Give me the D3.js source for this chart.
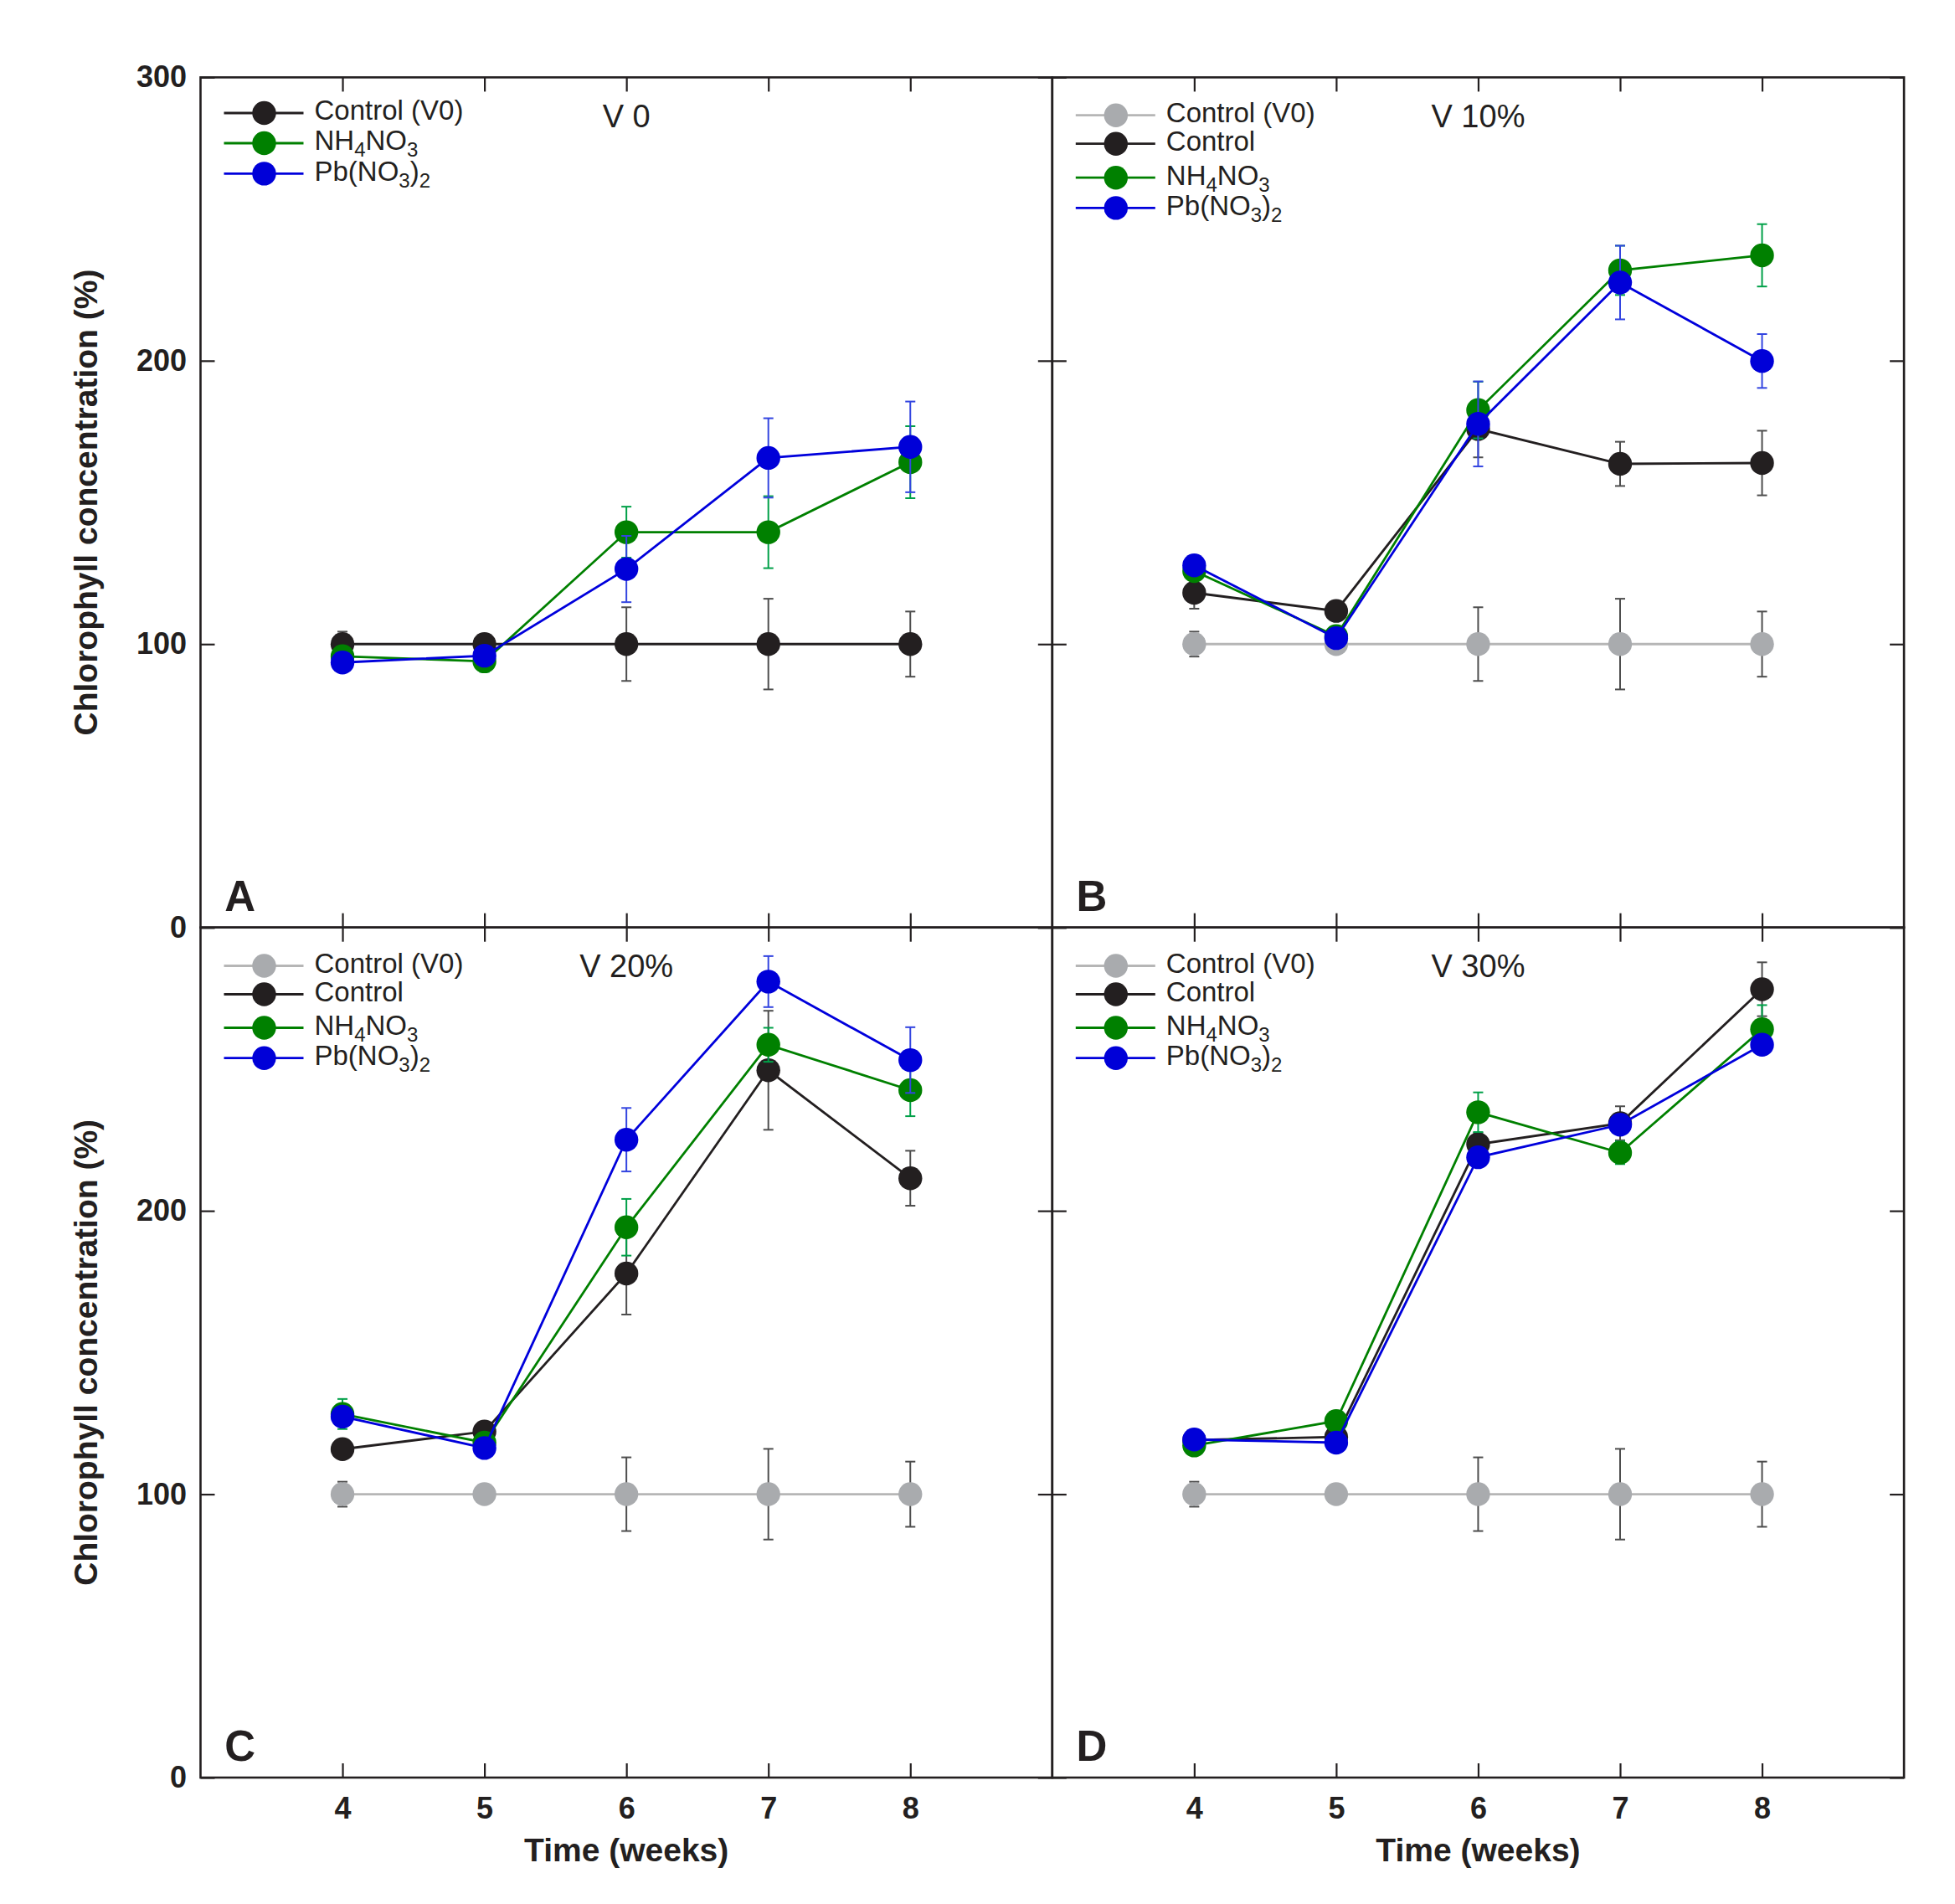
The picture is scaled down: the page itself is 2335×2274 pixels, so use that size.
<!DOCTYPE html>
<html><head><meta charset="utf-8">
<script src="https://cdn.jsdelivr.net/npm/d3@7"></script>
<style>
body{margin:0;background:#fff}
svg{display:block}
text{font-family:"Liberation Sans",Arial,Helvetica,sans-serif}
</style>
</head><body>
<svg id="chart" width="2335" height="2274"></svg>
<script>
// ---------------- DATA ----------------
const weeks = [4, 5, 6, 7, 8];
const yTickValues = [0, 100, 200, 300];
const panelLetters = ["A", "B", "C", "D"];
const panelTitles = ["V 0", "V 10%", "V 20%", "V 30%"];
const seriesNames = ["Control (V0)", "Control", "NH4NO3", "Pb(NO3)2"];
const yAxisTitle = "Chlorophyll concentration (%)";
const xAxisTitle = "Time (weeks)";

const v0Values = [100, 100, 100, 100, 100];
const v0Errors = [4.4, 2, 13, 16, 11.5];

const aNh4Values = [95.7, 93.9, 139.5, 139.5, 164.2];
const aNh4Errors = [3, 3.7, 9, 12.7, 12.7];
const aPbValues = [93.5, 95.9, 126.5, 165.7, 169.6];
const aPbErrors = [3.5, 2, 11.7, 14, 16];

const bControlValues = [118.1, 111.7, 175.9, 163.6, 163.9];
const bControlErrors = [5.6, 3, 10, 7.8, 11.4];
const bNh4Values = [125.8, 102.8, 182.6, 231.9, 237.2];
const bNh4Errors = [3, 2, 10, 8.7, 11];
const bPbValues = [127.8, 102.1, 177.7, 227.6, 199.9];
const bPbErrors = [3, 2, 15, 13, 9.5];

const cControlValues = [115.9, 122.1, 177.9, 249.6, 211.5];
const cControlErrors = [3, 3, 14.5, 21, 9.7];
const cNh4Values = [128.3, 118.2, 194.2, 258.6, 242.6];
const cNh4Errors = [5.3, 2, 10, 6, 9.2];
const cPbValues = [127.4, 116.3, 225.1, 280.9, 253.2];
const cPbErrors = [3, 2, 11.2, 9, 11.6];

const dControlValues = [119.1, 120.2, 223.5, 230.9, 278.2];
const dControlErrors = [2, 2, 4, 6, 9.5];
const dNh4Values = [117.2, 125.8, 234.8, 220.5, 264.1];
const dNh4Errors = [2, 2, 7, 4, 8.5];
const dPbValues = [119.3, 118.2, 218.9, 230.4, 258.6];
const dPbErrors = [2, 2, 3, 3, 3.5];

// ---------------- STYLES ----------------
const STY = {
  v0gray: {line: "#b6b6b6", marker: "#a9abae", err: "#4d4d4d"},
  black:  {line: "#231f20", marker: "#231f20", err: "#4d4d4d"},
  green:  {line: "#008000", marker: "#008000", err: "#00a048"},
  blue:   {line: "#0000dc", marker: "#0000d8", err: "#3345e0"}
};

const panels = [
  {series: [
    {name: seriesNames[0], v: v0Values, e: v0Errors, s: STY.black},
    {name: seriesNames[2], v: aNh4Values, e: aNh4Errors, s: STY.green},
    {name: seriesNames[3], v: aPbValues, e: aPbErrors, s: STY.blue}
  ], rows: [42.6, 78.6, 115]},
  {series: [
    {name: seriesNames[0], v: v0Values, e: v0Errors, s: STY.v0gray},
    {name: seriesNames[1], v: bControlValues, e: bControlErrors, s: STY.black},
    {name: seriesNames[2], v: bNh4Values, e: bNh4Errors, s: STY.green},
    {name: seriesNames[3], v: bPbValues, e: bPbErrors, s: STY.blue}
  ], rows: [45.3, 79.3, 119.8, 156]},
  {series: [
    {name: seriesNames[0], v: v0Values, e: v0Errors, s: STY.v0gray},
    {name: seriesNames[1], v: cControlValues, e: cControlErrors, s: STY.black},
    {name: seriesNames[2], v: cNh4Values, e: cNh4Errors, s: STY.green},
    {name: seriesNames[3], v: cPbValues, e: cPbErrors, s: STY.blue}
  ], rows: [45.8, 79.8, 119.8, 156]},
  {series: [
    {name: seriesNames[0], v: v0Values, e: v0Errors, s: STY.v0gray},
    {name: seriesNames[1], v: dControlValues, e: dControlErrors, s: STY.black},
    {name: seriesNames[2], v: dNh4Values, e: dNh4Errors, s: STY.green},
    {name: seriesNames[3], v: dPbValues, e: dPbErrors, s: STY.blue}
  ], rows: [45.8, 79.8, 119.8, 156]}
];

// rich-text parts (subscripts) for chemical names
const richParts = {
  "NH4NO3": [["NH", 0], ["4", 1], ["NO", 0], ["3", 1]],
  "Pb(NO3)2": [["Pb(NO", 0], ["3", 1], [")", 0], ["2", 1]]
};

// ---------------- LAYOUT ----------------
const X0 = 239.5, Y0 = 92.4, W = 1017.3, H = 1015.3;
const FRAME = "#231f20";
const svg = d3.select("#chart");

function addLabel(sel, name, fs, subFs, shift) {
  const parts = richParts[name];
  if (!parts) { sel.text(name); return; }
  let cur = 0;
  parts.forEach(([t, sub]) => {
    const target = sub ? shift : 0;
    sel.append("tspan").attr("dy", target - cur).attr("font-size", sub ? subFs : fs).text(t);
    cur = target;
  });
}

panels.forEach((p, i) => {
  const col = i % 2, row = Math.floor(i / 2);
  const g = svg.append("g").attr("transform", `translate(${X0 + col * W},${Y0 + row * H})`);
  const x = d3.scaleLinear().domain([3, 9]).range([0, W]);
  const y = d3.scaleLinear().domain([0, 300]).range([H, 0]);

  // axes with inward ticks
  const styleAxis = a => {
    a.select(".domain").remove();
    a.selectAll(".tick line").attr("stroke", FRAME).attr("stroke-width", 2.2);
    a.selectAll("text").attr("font-family", "'Liberation Sans',Arial,sans-serif")
      .attr("font-size", 36).attr("font-weight", "bold").attr("fill", "#231f20");
  };
  g.append("g").attr("transform", `translate(0,${H})`)
    .call(d3.axisBottom(x).tickValues(weeks).tickSize(-17).tickPadding(23)
      .tickFormat(row === 1 ? d3.format("d") : () => ""))
    .call(styleAxis);
  g.append("g")
    .call(d3.axisTop(x).tickValues(weeks).tickSize(-17).tickFormat(() => ""))
    .call(styleAxis);
  g.append("g")
    .call(d3.axisLeft(y).tickValues(yTickValues).tickSize(-17).tickPadding(16.5)
      .tickFormat(d => (col === 0 && !(row === 1 && d === 300)) ? d3.format("d")(d) : ""))
    .call(styleAxis);
  g.append("g").attr("transform", `translate(${W},0)`)
    .call(d3.axisRight(y).tickValues(yTickValues).tickSize(-17).tickFormat(() => ""))
    .call(styleAxis);

  g.append("rect").attr("width", W).attr("height", H)
    .attr("fill", "none").attr("stroke", FRAME).attr("stroke-width", 2.6);

  // series
  const line = d3.line().x(d => x(d.w)).y(d => y(d.v));
  p.series.forEach(s => {
    const pts = weeks.map((w, k) => ({w, v: s.v[k], e: s.e[k]}));
    const sg = g.append("g");
    sg.append("path").datum(pts).attr("d", line)
      .attr("fill", "none").attr("stroke", s.s.line).attr("stroke-width", 2.8);
    const eb = sg.selectAll(".eb").data(pts).join("g").attr("class", "eb")
      .attr("stroke", s.s.err).attr("stroke-width", 2);
    eb.append("line").attr("x1", d => x(d.w)).attr("x2", d => x(d.w))
      .attr("y1", d => y(d.v - d.e)).attr("y2", d => y(d.v + d.e));
    eb.append("line").attr("x1", d => x(d.w) - 6).attr("x2", d => x(d.w) + 6)
      .attr("y1", d => y(d.v + d.e)).attr("y2", d => y(d.v + d.e));
    eb.append("line").attr("x1", d => x(d.w) - 6).attr("x2", d => x(d.w) + 6)
      .attr("y1", d => y(d.v - d.e)).attr("y2", d => y(d.v - d.e));
    sg.selectAll("circle").data(pts).join("circle")
      .attr("cx", d => x(d.w)).attr("cy", d => y(d.v)).attr("r", 14.2)
      .attr("fill", s.s.marker);
  });

  // legend
  const lg = g.append("g");
  p.series.forEach((s, k) => {
    const ry = p.rows[k];
    lg.append("line").attr("x1", 28).attr("x2", 123).attr("y1", ry).attr("y2", ry)
      .attr("stroke", s.s.line).attr("stroke-width", 2.8);
    lg.append("circle").attr("cx", 76).attr("cy", ry).attr("r", 14.2).attr("fill", s.s.marker);
    const t = lg.append("text").attr("x", 136).attr("y", ry + 8.5)
      .attr("font-size", 33).attr("fill", "#231f20");
    addLabel(t, s.name, 33, 24, 8);
  });

  // title
  g.append("text").attr("x", x(6)).attr("y", 59.3).attr("text-anchor", "middle")
    .attr("font-size", 38).attr("fill", "#231f20").text(panelTitles[i]);

  // panel letter
  g.append("text").attr("x", 28.8).attr("y", H - 20).attr("font-size", 51)
    .attr("font-weight", "bold").attr("fill", "#231f20").text(panelLetters[i]);

  // axis titles
  if (col === 0) {
    svg.append("text")
      .attr("transform", `translate(116,${Y0 + row * H + H / 2}) rotate(-90)`)
      .attr("text-anchor", "middle").attr("font-size", 39).attr("font-weight", "bold")
      .attr("fill", "#231f20").text(yAxisTitle);
  }
  if (row === 1) {
    svg.append("text").attr("x", X0 + col * W + x(6)).attr("y", 2223)
      .attr("text-anchor", "middle").attr("font-size", 39).attr("font-weight", "bold")
      .attr("fill", "#231f20").text(xAxisTitle);
  }
});
</script>
</body></html>
